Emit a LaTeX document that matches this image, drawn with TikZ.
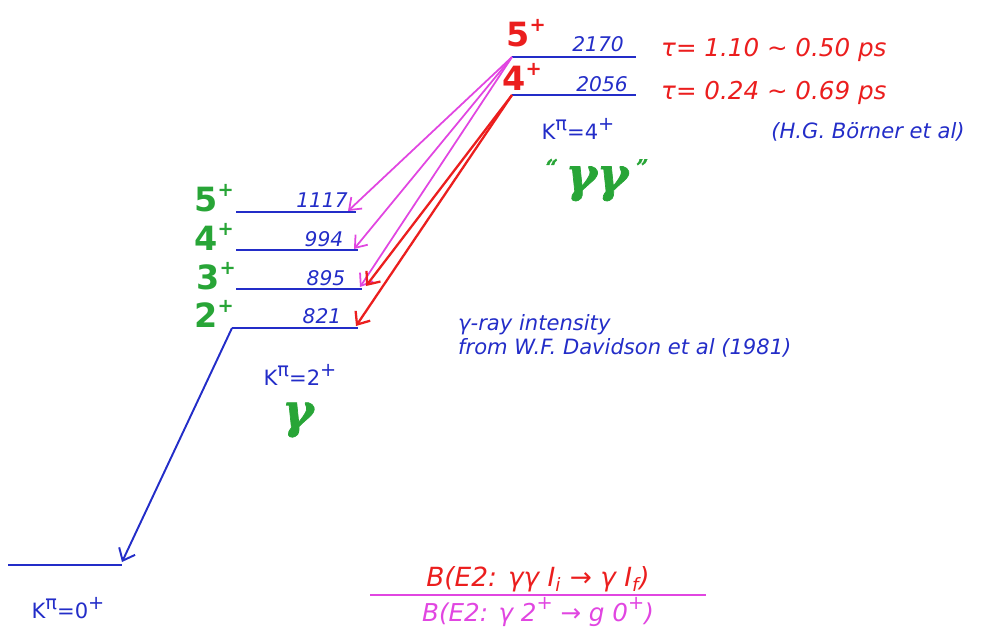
\documentclass[tikz,border=0pt]{standalone}
\usepackage{fontspec}
\setmainfont{DejaVu Sans}
\newfontfamily\gfont[FakeBold=1.5]{DejaVu Serif}
\usetikzlibrary{arrows.meta}
\definecolor{hblue}{RGB}{35,45,200}
\definecolor{hred}{RGB}{235,30,30}
\definecolor{hmag}{RGB}{225,70,225}
\definecolor{hgreen}{RGB}{40,165,55}
\newcommand{\sps}[1]{\raisebox{0.45em}{\fontsize{11}{11}\selectfont #1}}
\newcommand{\smq}[1]{\raisebox{0.35em}{\fontsize{12}{12}\selectfont #1}}
\tikzset{
  level/.style={hblue, line width=1.6pt},
  mtrans/.style={hmag, line width=1pt, -{Straight Barb[length=6pt,width=9pt]}},
  rtrans/.style={hred, line width=1.3pt, -{Straight Barb[length=6pt,width=10pt]}},
  btrans/.style={hblue, line width=1.1pt, -{Straight Barb[length=6pt,width=10pt]}},
  spin/.style={font=\fontsize{19}{19}\selectfont\bfseries},
  energy/.style={hblue, font=\fontsize{11.5}{11.5}\selectfont\slshape},
  note/.style={hblue, font=\fontsize{12}{14}\selectfont\itshape, align=left},
  tau/.style={hred, font=\fontsize{14}{14}\selectfont\itshape, anchor=west},
  kpi/.style={hblue, font=\fontsize{12}{12}\selectfont},
  band/.style={hgreen, font=\fontsize{27}{27}\gfont\bfseries\itshape},
}
\begin{document}
\begin{tikzpicture}[x=0.02cm,y=-0.02cm]
\useasboundingbox (0,0) rectangle (996,640);
% ground band
\coordinate (g0L) at (8,565);
\coordinate (g0R) at (122,565);
\draw[level] (g0L) -- (g0R);
\node[kpi] (k0) at (68,608) {K\sps{π}=0\sps{+}};
% gamma band
\coordinate (g5L) at (236,212); \coordinate (g5R) at (356,212);
\coordinate (g4L) at (236,250); \coordinate (g4R) at (358,250);
\coordinate (g3L) at (236,289); \coordinate (g3R) at (362,289);
\coordinate (g2L) at (232,328); \coordinate (g2R) at (358,328);
\draw[level] (g5L) -- (g5R);
\draw[level] (g4L) -- (g4R);
\draw[level] (g3L) -- (g3R);
\draw[level] (g2L) -- (g2R);
\node[spin, hgreen] (s5) at (214,198) {5\sps{+}};
\node[spin, hgreen] (s4) at (214,237) {4\sps{+}};
\node[spin, hgreen] (s3) at (216,276) {3\sps{+}};
\node[spin, hgreen] (s2) at (214,314) {2\sps{+}};
\node[energy] (e1117) at (322,200) {1117};
\node[energy] (e994) at (324,239) {994};
\node[energy] (e895) at (326,278) {895};
\node[energy] (e821) at (322,316) {821};
\node[kpi] (k2) at (300,375) {K\sps{π}=2\sps{+}};
\node[band] (gam) at (298,420) {γ};
% gamma-gamma band
\coordinate (t5L) at (512,57); \coordinate (t5R) at (636,57);
\coordinate (t4L) at (512,95); \coordinate (t4R) at (636,95);
\draw[level] (t5L) -- (t5R);
\draw[level] (t4L) -- (t4R);
\node[spin, hred] (u5) at (526,33) {5\sps{+}};
\node[spin, hred] (u4) at (522,77) {4\sps{+}};
\node[energy] (e2170) at (598,44) {2170};
\node[energy] (e2056) at (602,84) {2056};
\node[tau] (tau1) at (655,50) {τ= 1.10 ∼ 0.50 ps};
\node[tau] (tau2) at (655,93) {τ= 0.24 ∼ 0.69 ps};
\node[kpi] (k4) at (578,129) {K\sps{π}=4\sps{+}};
\node[note] (ref1) at (868,132) {(H.G. Börner et al)};
\node[band] (gg) at (597,180) {\smq{“}\,γγ\,\smq{”}};
% transitions
\coordinate (a1117) at (348,211);
\coordinate (a994) at (354,249);
\coordinate (a895m) at (360,287);
\coordinate (a895r) at (366,286);
\coordinate (a821) at (356,326);
\coordinate (a0) at (122,562);
\draw[mtrans] (t5L) -- (a1117);
\draw[mtrans] (t5L) -- (a994);
\draw[mtrans] (t5L) -- (a895m);
\draw[rtrans] (t4L) -- (a895r);
\draw[rtrans] (t4L) -- (a821);
\draw[btrans] (g2L) -- (a0);
% notes
\node[note, anchor=north west] (ref2) at (452,308) {γ-ray intensity\\from W.F. Davidson et al (1981)};
% ratio
\node[hred, font=\fontsize{15}{15}\selectfont\itshape] (num) at (538,579) {B(E2: γγ I\textsubscript{i} → γ I\textsubscript{f})};
\node[hmag, font=\fontsize{14}{14}\selectfont\itshape] (den) at (538,612) {B(E2: γ 2\sps{+} → g 0\sps{+})};
\coordinate (fl) at (370,595); \coordinate (fr) at (706,595);
\draw[hmag, line width=1pt] (fl) -- (fr);
\end{tikzpicture}
\end{document}
